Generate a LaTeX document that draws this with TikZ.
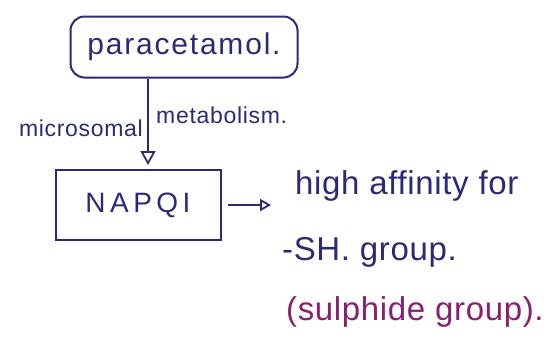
\documentclass[tikz,border=0pt]{standalone}
\usepackage{fontspec}
\setmainfont{Liberation Sans}
\usetikzlibrary{arrows.meta}
\definecolor{ink}{HTML}{2B2A78}
\definecolor{plum}{HTML}{8A1F6E}
\tikzset{
  every node/.style={text=ink, inner sep=0pt},
  hw/.style={font=\fontsize{30}{34}\selectfont\addfontfeature{LetterSpace=6}},
  hwsmall/.style={font=\fontsize{23}{26}\selectfont\addfontfeature{LetterSpace=3}},
  hwbig/.style={font=\fontsize{33}{38}\selectfont\addfontfeature{LetterSpace=2}},
  conn/.style={draw=ink, line width=1.8pt, -{Triangle[open, length=14pt, width=15pt, line width=1.8pt]}},
  boxline/.style={draw=ink, line width=2pt},
}
\begin{document}
\begin{tikzpicture}[x=1pt,y=-1pt]
\useasboundingbox (0,0) rectangle (549,360);
\node[boxline, rounded corners=14pt, minimum width=227pt, minimum height=61pt, hw] (para) at (184,47) {paracetamol.};
\node[boxline, minimum width=165pt, minimum height=70pt, font=\fontsize{28}{32}\selectfont\addfontfeature{LetterSpace=16}] (napqi) at (138,205) {NAPQI};
\draw[conn] (para.south -| 148,0) -- (148,165) coordinate (ah);
\node[hwsmall, anchor=east] (mic) at (143,128) {microsomal};
\node[hwsmall, anchor=west] (met) at (156,115) {metabolism.};
\node[hwbig, anchor=west] (aff) at (295,186) {high affinity for};
\draw[conn, -{Triangle[open, length=11pt, width=12pt, line width=1.8pt]}] ([xshift=6pt]napqi.east) -- ([xshift=-24pt]aff.west |- napqi.east);
\node[hwbig, anchor=west] (sh) at (282,252) {-SH. group.};
\node[hwbig, anchor=west, text=plum] (sul) at (286,312) {(sulphide group).};
\end{tikzpicture}
\end{document}
